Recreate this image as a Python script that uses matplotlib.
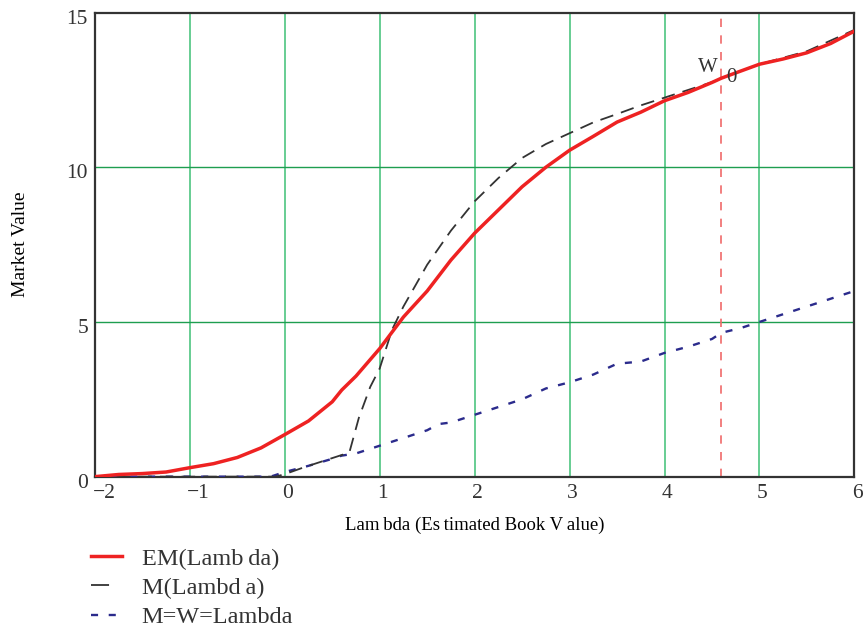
import matplotlib
matplotlib.use('Agg')
import matplotlib.pyplot as plt
import matplotlib.transforms as mtransforms
import numpy as np

plt.rcParams['font.family'] = ['Liberation Serif', 'DejaVu Serif']
plt.rcParams['text.color'] = '#333333'
plt.rcParams['axes.unicode_minus'] = True

# EM(Lambda) - red solid
em_x = [-2, -1.75, -1.5, -1.25, -1, -0.75, -0.5, -0.25, 0, 0.25, 0.5, 0.6, 0.75, 1, 1.25,
        1.5, 1.75, 2, 2.25, 2.5, 2.75, 3, 3.25, 3.5, 3.75, 4, 4.25, 4.5, 4.6, 4.75, 5,
        5.25, 5.5, 5.75, 6]
em_y = [0, 0.07, 0.1, 0.15, 0.29, 0.42, 0.62, 0.93, 1.36, 1.8, 2.42, 2.8, 3.25, 4.14, 5.16,
        6.0, 7.0, 7.87, 8.62, 9.37, 10.0, 10.55, 11.0, 11.46, 11.78, 12.15, 12.42, 12.74,
        12.88, 13.05, 13.33, 13.5, 13.7, 14.0, 14.4]

# M(Lambda) - black dashed
m_x = [-2, -0.1, 0, 0.2, 0.4, 0.55, 0.68, 0.78, 0.9, 1.0, 1.13, 1.25, 1.38, 1.5, 1.75, 2,
       2.25, 2.5, 2.75, 3, 3.25, 3.5, 3.75, 4, 4.25, 4.5, 4.6, 5, 5.5, 6]
m_y = [0, 0, 0.08, 0.3, 0.5, 0.65, 0.78, 1.9, 2.9, 3.5, 4.75, 5.5, 6.2, 6.85, 7.95, 8.9,
       9.65, 10.3, 10.75, 11.1, 11.45, 11.72, 12.0, 12.25, 12.5, 12.75, 12.88, 13.33, 13.75,
       14.44]

# M=W=Lambda - blue dashed
w_x = [-2, -0.15, 0, 0.25, 0.47, 0.6, 0.75, 1, 1.25, 1.5, 1.62, 1.75, 2, 2.5, 2.75, 3,
       3.25, 3.5, 3.75, 4, 4.25, 4.5, 4.6, 4.8, 5, 5.25, 5.5, 5.75, 6]
w_y = [0, 0, 0.15, 0.35, 0.55, 0.68, 0.75, 1.0, 1.25, 1.5, 1.7, 1.75, 2.0, 2.5, 2.85, 3.05,
       3.3, 3.65, 3.72, 4.0, 4.2, 4.45, 4.65, 4.8, 5.0, 5.25, 5.5, 5.75, 6.0]

w0 = 4.6
x_ticks = [-2, -1, 0, 1, 2, 3, 4, 5, 6]
y_ticks = [0, 5, 10, 15]

fig = plt.figure(figsize=(8.63, 6.28), dpi=100)
ax = fig.add_axes([0.110, 0.241, 0.880, 0.739])

for xv in x_ticks[1:-1]:
    ax.axvline(xv, color='#5cc98a', lw=1.3, zorder=1)
for yv in y_ticks[1:-1]:
    ax.axhline(yv, color='#1e9e50', lw=1.0, zorder=1)

ax.axvline(w0, color='#f06a6a', lw=1.2, ls=(0, (5, 5)), zorder=2)

l3, = ax.plot(w_x, w_y, color='#2b2b8c', lw=1.7, ls=(0, (3, 4.5)), zorder=3,
              label='M=W=Lambda')
l2, = ax.plot(m_x, m_y, color='#333333', lw=1.3, ls=(0, (7.5, 4.5)), zorder=4,
              label='M(Lambd\u2009a)')
l1, = ax.plot(em_x, em_y, color='#ee2222', lw=2.5, zorder=5, label='EM(Lamb\u2009da)')

ax.text(4.46, 13.22, 'W', fontsize=15, ha='center', va='center', zorder=6)
ax.text(4.71, 12.9, '0', fontsize=15, ha='center', va='center', zorder=6)

ax.set_xlim(-2, 6)
ax.set_ylim(0, 15)
ax.set_xticks(x_ticks)
ax.set_yticks(y_ticks)
ax.tick_params(length=0, labelsize=15.5, pad=5, colors='#333333')
for s in ax.spines.values():
    s.set_color('#333333')
    s.set_linewidth(1.6)

# tick labels sit a little right of / below their ticks in the original
xoff = mtransforms.ScaledTranslation(-0.025, 0, fig.dpi_scale_trans)
yoff = mtransforms.ScaledTranslation(0, -0.04, fig.dpi_scale_trans)
for lab in ax.get_xticklabels():
    lab.set_ha('left')
    lab.set_transform(lab.get_transform() + xoff)
for lab in ax.get_yticklabels():
    lab.set_transform(lab.get_transform() + yoff)

ax.set_xlabel('Lam\u2009bda (Es\u2009timated Book V\u2009alue)', fontsize=13.5, labelpad=10)
ax.set_ylabel('Market Value', fontsize=14)
ax.yaxis.set_label_coords(-0.087, 0.5)

leg = fig.legend(handles=[l1, l2, l3], loc='upper left', bbox_to_anchor=(0.105, 0.128),
                 frameon=False, fontsize=17.5, handlelength=1.3, handletextpad=0.8,
                 labelspacing=0.3, borderpad=0, borderaxespad=0)
leg.legend_handles[1].set_linestyle((0, (10, 20)))

fig.savefig('out.png', dpi=100)
